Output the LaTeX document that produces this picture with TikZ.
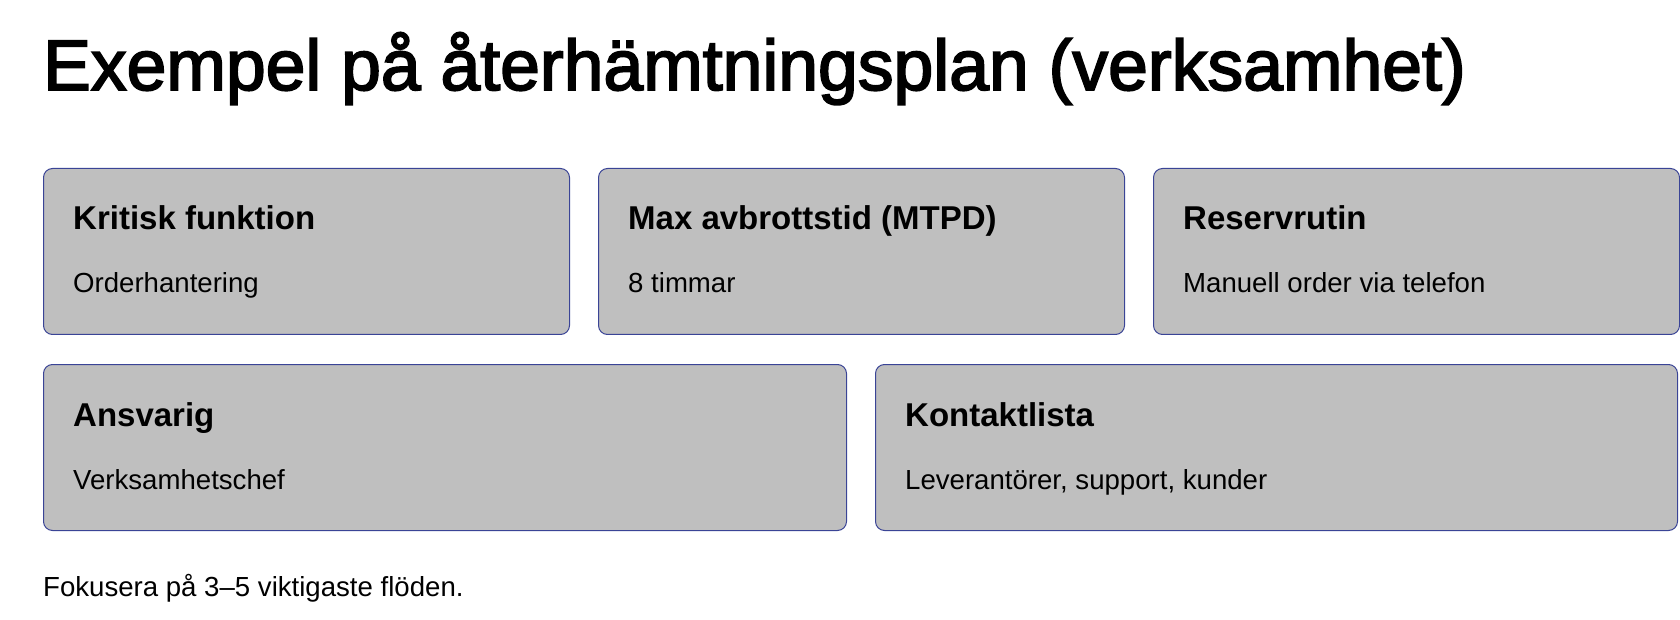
\documentclass[tikz,border=0pt]{standalone}
\usepackage{fontspec}
\setmainfont{Liberation Sans}
\newfontfamily\medfont[FakeBold=2.5]{Liberation Sans}
\usetikzlibrary{positioning}
\definecolor{cardfill}{RGB}{191,191,191}
\definecolor{cardline}{RGB}{58,68,150}

\begin{document}
\begin{tikzpicture}[
        x=1pt, y=1pt,
        node distance=29pt and 28pt,
        card/.style={draw=cardline, fill=cardfill, line width=1pt, rounded corners=9pt, minimum height=166pt, inner sep=0pt, anchor=north west},
        smallcard/.style={card, minimum width=526pt},
        widecard/.style={card, minimum width=803pt},
        head/.style={anchor=base west, inner sep=0pt, font=\bfseries\fontsize{33}{38}\selectfont},
        body/.style={anchor=base west, inner sep=0pt, font=\fontsize{27.6}{32}\selectfont}
    ]
        \useasboundingbox (0,0) rectangle (1680,619);

        % Title
        \node[anchor=base west, inner sep=0pt, font=\medfont\fontsize{71.5}{80}\selectfont] (title) at (43,529) {Exempel på återhämtningsplan (verksamhet)};

        % Row 1
        \node[smallcard] (crit) at (43,451) {};
        \node[smallcard, right=28pt of crit.north east, anchor=north west] (mtpd) {};
        \node[smallcard, right=28pt of mtpd.north east, anchor=north west] (res) {};

        % Row 2
        \node[widecard, below=29pt of crit.south west, anchor=north west] (owner) {};
        \node[card, minimum width=802pt, right=28pt of owner.north east, anchor=north west] (contact) {};

        % Card texts
        \node[head] (critH) at ([xshift=30pt, yshift=-62pt]crit.north west) {Kritisk funktion};
        \node[body] (critB) at ([xshift=30pt, yshift=-125pt]crit.north west) {Orderhantering};
        \node[head] (mtpdH) at ([xshift=30pt, yshift=-62pt]mtpd.north west) {Max avbrottstid (MTPD)};
        \node[body] (mtpdB) at ([xshift=30pt, yshift=-125pt]mtpd.north west) {8 timmar};
        \node[head] (resH) at ([xshift=30pt, yshift=-62pt]res.north west) {Reservrutin};
        \node[body] (resB) at ([xshift=30pt, yshift=-125pt]res.north west) {Manuell order via telefon};
        \node[head] (ownerH) at ([xshift=30pt, yshift=-62pt]owner.north west) {Ansvarig};
        \node[body] (ownerB) at ([xshift=30pt, yshift=-125pt]owner.north west) {Verksamhetschef};
        \node[head] (contactH) at ([xshift=30pt, yshift=-62pt]contact.north west) {Kontaktlista};
        \node[body] (contactB) at ([xshift=30pt, yshift=-125pt]contact.north west) {Leverantörer, support, kunder};

        % Footer
        \node[body] (note) at (43,23) {Fokusera på 3–5 viktigaste flöden.};
\end{tikzpicture}
\end{document}
